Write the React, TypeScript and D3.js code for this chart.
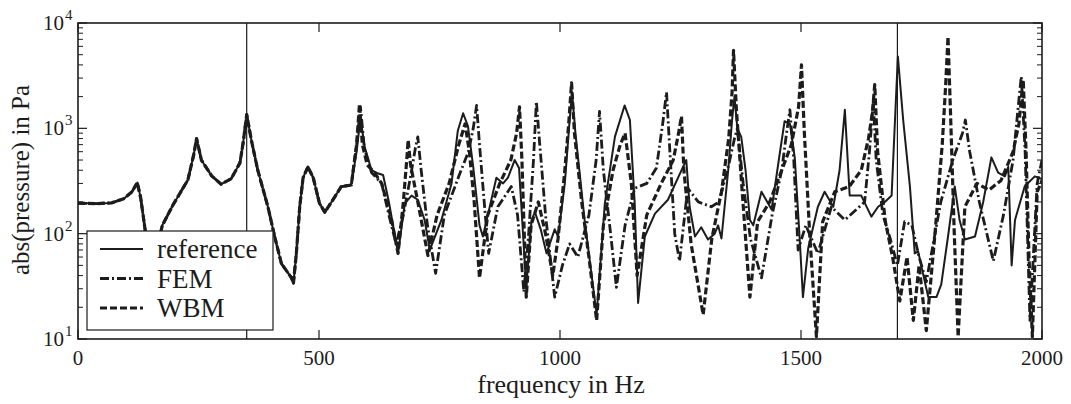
import React from "react";
import * as d3 from "d3";

// all three curves coincide below ~570 Hz
const lowBand: [number, number][] = [
  [0, 195], [40, 193], [70, 196], [95, 215], [112, 250], [123, 305], [130, 220],
  [138, 120], [148, 55], [155, 38], [163, 70], [175, 120], [197, 187], [228, 324],
  [240, 560], [246, 800], [256, 500], [277, 355], [297, 295], [318, 333], [336, 470],
  [343, 750], [350, 1350], [360, 760], [373, 400], [394, 180], [408, 94], [422, 52],
  [443, 38], [447, 34], [453, 65], [460, 180], [467, 340], [477, 430], [488, 340],
  [501, 194], [512, 160], [526, 200], [546, 279], [567, 290],
];

const referenceHigh: [number, number][] = [
  [578, 600], [586, 1250], [595, 660], [609, 400], [620, 377], [633, 360], [645, 200],
  [664, 65], [678, 194], [692, 230], [705, 210], [719, 135], [730, 70], [754, 135],
  [775, 300], [788, 950], [799, 1390], [809, 1050], [820, 430], [833, 120], [840, 94],
  [851, 155], [868, 340], [882, 300], [892, 340], [906, 500], [915, 420], [930, 31],
  [941, 135], [948, 160], [960, 110], [972, 65], [989, 110], [996, 94], [1010, 300],
  [1020, 1200], [1025, 2200], [1032, 900], [1051, 135], [1076, 17], [1093, 194],
  [1114, 834], [1134, 1650], [1145, 1200], [1155, 194], [1162, 22], [1176, 94],
  [1197, 155], [1224, 210], [1245, 340], [1262, 500], [1269, 180], [1280, 94],
  [1293, 115], [1307, 88], [1321, 100], [1328, 120], [1335, 90], [1349, 400],
  [1357, 1200], [1362, 2000], [1368, 1000], [1376, 830], [1385, 400], [1394, 135],
  [1401, 120], [1418, 250], [1439, 170], [1456, 580], [1466, 1170], [1477, 1100],
  [1487, 530], [1497, 94], [1504, 25], [1515, 73], [1535, 180], [1549, 250],
  [1567, 180], [1580, 400], [1591, 1500], [1601, 230], [1625, 230], [1646, 145],
  [1660, 180], [1674, 200], [1688, 230], [1695, 1200], [1701, 4800], [1712, 1200],
  [1726, 280], [1736, 65], [1743, 68], [1753, 42], [1764, 25], [1781, 25], [1791, 33],
  [1805, 94], [1819, 280], [1829, 135], [1840, 88], [1861, 94], [1878, 200],
  [1895, 530], [1909, 380], [1923, 350], [1930, 430], [1937, 50], [1944, 135],
  [1964, 280], [1985, 350], [2000, 330],
];

const femHigh: [number, number][] = [
  [578, 700], [586, 1600], [594, 650], [609, 380], [630, 300], [645, 150], [660, 80],
  [675, 150], [690, 350], [700, 650], [705, 830], [712, 400], [725, 120], [742, 42],
  [760, 150], [790, 350], [810, 600], [820, 1000], [827, 1650], [833, 700], [845, 150],
  [852, 65], [871, 180], [899, 280], [912, 150], [925, 28], [935, 100], [945, 500],
  [951, 1800], [957, 800], [970, 150], [989, 25], [1005, 50], [1020, 80], [1037, 60],
  [1060, 150], [1075, 500], [1082, 1450], [1090, 400], [1105, 100], [1117, 31],
  [1135, 120], [1155, 270], [1180, 300], [1200, 420], [1213, 1100], [1221, 2200],
  [1228, 600], [1238, 100], [1248, 55], [1265, 270], [1287, 200], [1314, 180],
  [1330, 200], [1350, 450], [1362, 800], [1368, 1000], [1380, 300], [1395, 90],
  [1418, 38], [1440, 150], [1460, 400], [1470, 900], [1477, 1500], [1485, 500],
  [1494, 70], [1510, 120], [1535, 65], [1563, 180], [1591, 135], [1612, 165],
  [1632, 200], [1642, 600], [1650, 1800], [1656, 500], [1670, 150], [1685, 90],
  [1700, 50], [1715, 130], [1730, 120], [1745, 60], [1760, 35], [1790, 200],
  [1815, 500], [1835, 900], [1841, 1200], [1850, 600], [1870, 200], [1899, 55],
  [1920, 150], [1940, 500], [1950, 1500], [1957, 3100], [1965, 600], [1975, 15],
  [1990, 300], [2000, 500],
];

const wbmHigh: [number, number][] = [
  [578, 700], [584, 1700], [590, 700], [600, 450], [615, 380], [630, 300], [650, 140],
  [664, 65], [675, 200], [682, 500], [685, 775], [690, 450], [705, 200], [726, 62],
  [745, 150], [770, 300], [790, 700], [803, 1100], [812, 600], [822, 200], [833, 38],
  [850, 150], [875, 300], [898, 500], [910, 900], [916, 1600], [921, 500], [930, 25],
  [940, 120], [955, 200], [970, 100], [985, 40], [996, 90], [1010, 400], [1018, 1100],
  [1024, 2700], [1030, 900], [1045, 200], [1060, 60], [1076, 15], [1090, 120],
  [1110, 400], [1125, 700], [1135, 900], [1148, 300], [1160, 40], [1180, 150],
  [1210, 300], [1235, 500], [1246, 900], [1252, 1300], [1257, 400], [1272, 80],
  [1297, 17], [1315, 90], [1335, 250], [1350, 800], [1357, 2200], [1360, 5500],
  [1366, 1500], [1378, 250], [1394, 25], [1410, 130], [1435, 200], [1460, 400],
  [1480, 700], [1495, 1600], [1501, 4000], [1507, 900], [1518, 100], [1532, 10.5],
  [1545, 130], [1570, 250], [1600, 280], [1625, 400], [1640, 800], [1648, 1400],
  [1653, 2600], [1659, 600], [1675, 130], [1690, 60], [1705, 23], [1720, 60],
  [1733, 15], [1745, 50], [1760, 12], [1778, 100], [1793, 700], [1800, 2500],
  [1805, 7400], [1810, 1500], [1818, 100], [1826, 10.5], [1840, 180], [1865, 300],
  [1890, 260], [1915, 320], [1940, 600], [1952, 1100], [1961, 2900], [1967, 600],
  [1973, 60], [1980, 10.5], [1990, 250], [2000, 320],
];

const xTicks = [0, 500, 1000, 1500, 2000];
const yDecades = [1, 2, 3, 4];
const markerFreqs = [350, 1700];
const legendLabels = ["reference", "FEM", "WBM"];

const ink = "#1c1c1c";
const font = "'Liberation Serif', 'Times New Roman', serif";

export default function App() {
  const left = 78, right = 1042, top = 23, bottom = 339;

  const x = d3.scaleLinear().domain([0, 2000]).range([left, right]);
  const y = d3.scaleLog().domain([10, 10000]).range([bottom, top]);

  const line = d3
    .line<[number, number]>()
    .x((d) => x(d[0]))
    .y((d) => y(d[1]));

  const series = [
    { name: "reference", data: lowBand.concat(referenceHigh), width: 2, dash: "none" },
    { name: "FEM", data: lowBand.concat(femHigh), width: 2.8, dash: "9,3,2,3" },
    { name: "WBM", data: lowBand.concat(wbmHigh), width: 3.2, dash: "7,3" },
  ];

  // minor log ticks 2..9 in every decade
  const minor: number[] = [];
  [10, 100, 1000].forEach((d) => {
    for (let k = 2; k <= 9; k++) minor.push(k * d);
  });

  return (
    <div style={{ position: "fixed", left: 0, top: 0 }}>
      <svg width={1071} height={404} style={{ display: "block", background: "#fff" }}>
        <defs>
          <clipPath id="plot">
            <rect x={left} y={top} width={right - left} height={bottom - top} />
          </clipPath>
        </defs>

        {markerFreqs.map((f) => (
          <line key={f} x1={x(f)} x2={x(f)} y1={top} y2={bottom} stroke={ink} strokeWidth={1.2} />
        ))}

        <g clipPath="url(#plot)">
          {series.map((s) => (
            <path
              key={s.name}
              d={line(s.data) || ""}
              fill="none"
              stroke={ink}
              strokeWidth={s.width}
              strokeDasharray={s.dash}
              strokeLinejoin="round"
            />
          ))}
        </g>

        {/* frame */}
        <rect x={left} y={top} width={right - left} height={bottom - top} fill="none" stroke={ink} strokeWidth={1.6} />

        {/* x ticks */}
        {xTicks.map((t) => (
          <g key={t}>
            <line x1={x(t)} x2={x(t)} y1={bottom} y2={bottom - 9} stroke={ink} strokeWidth={1.2} />
            <line x1={x(t)} x2={x(t)} y1={top} y2={top + 9} stroke={ink} strokeWidth={1.2} />
            <text x={x(t)} y={365} textAnchor="middle" fontFamily={font} fontSize={21} fill={ink}>
              {t}
            </text>
          </g>
        ))}

        {/* y ticks */}
        {minor.map((v) => (
          <g key={v}>
            <line x1={left} x2={left + 5} y1={y(v)} y2={y(v)} stroke={ink} strokeWidth={1} />
            <line x1={right} x2={right - 5} y1={y(v)} y2={y(v)} stroke={ink} strokeWidth={1} />
          </g>
        ))}
        {yDecades.map((p) => (
          <g key={p}>
            <line x1={left} x2={left + 9} y1={y(10 ** p)} y2={y(10 ** p)} stroke={ink} strokeWidth={1.2} />
            <line x1={right} x2={right - 9} y1={y(10 ** p)} y2={y(10 ** p)} stroke={ink} strokeWidth={1.2} />
            <text x={64} y={y(10 ** p) + 7} textAnchor="end" fontFamily={font} fontSize={21} fill={ink}>
              10
            </text>
            <text x={65} y={y(10 ** p) - 3} fontFamily={font} fontSize={15} fill={ink}>
              {p}
            </text>
          </g>
        ))}

        {/* axis titles */}
        <text x={561} y={393} textAnchor="middle" fontFamily={font} fontSize={26} fill={ink}>
          frequency in Hz
        </text>
        <text
          transform="translate(29,180) rotate(-90)"
          textAnchor="middle"
          fontFamily={font}
          fontSize={25}
          fill={ink}
        >
          abs(pressure) in Pa
        </text>

        {/* legend */}
        <rect x={87} y={231} width={186} height={99} fill="#fff" stroke={ink} strokeWidth={1.2} />
        {series.map((s, i) => {
          const ly = 249 + i * 29.5;
          return (
            <g key={s.name}>
              <line x1={100} x2={143} y1={ly} y2={ly} stroke={ink} strokeWidth={s.width} strokeDasharray={s.dash} />
              <text x={157} y={ly + 9} fontFamily={font} fontSize={27} fill={ink}>
                {legendLabels[i]}
              </text>
            </g>
          );
        })}
      </svg>
    </div>
  );
}
